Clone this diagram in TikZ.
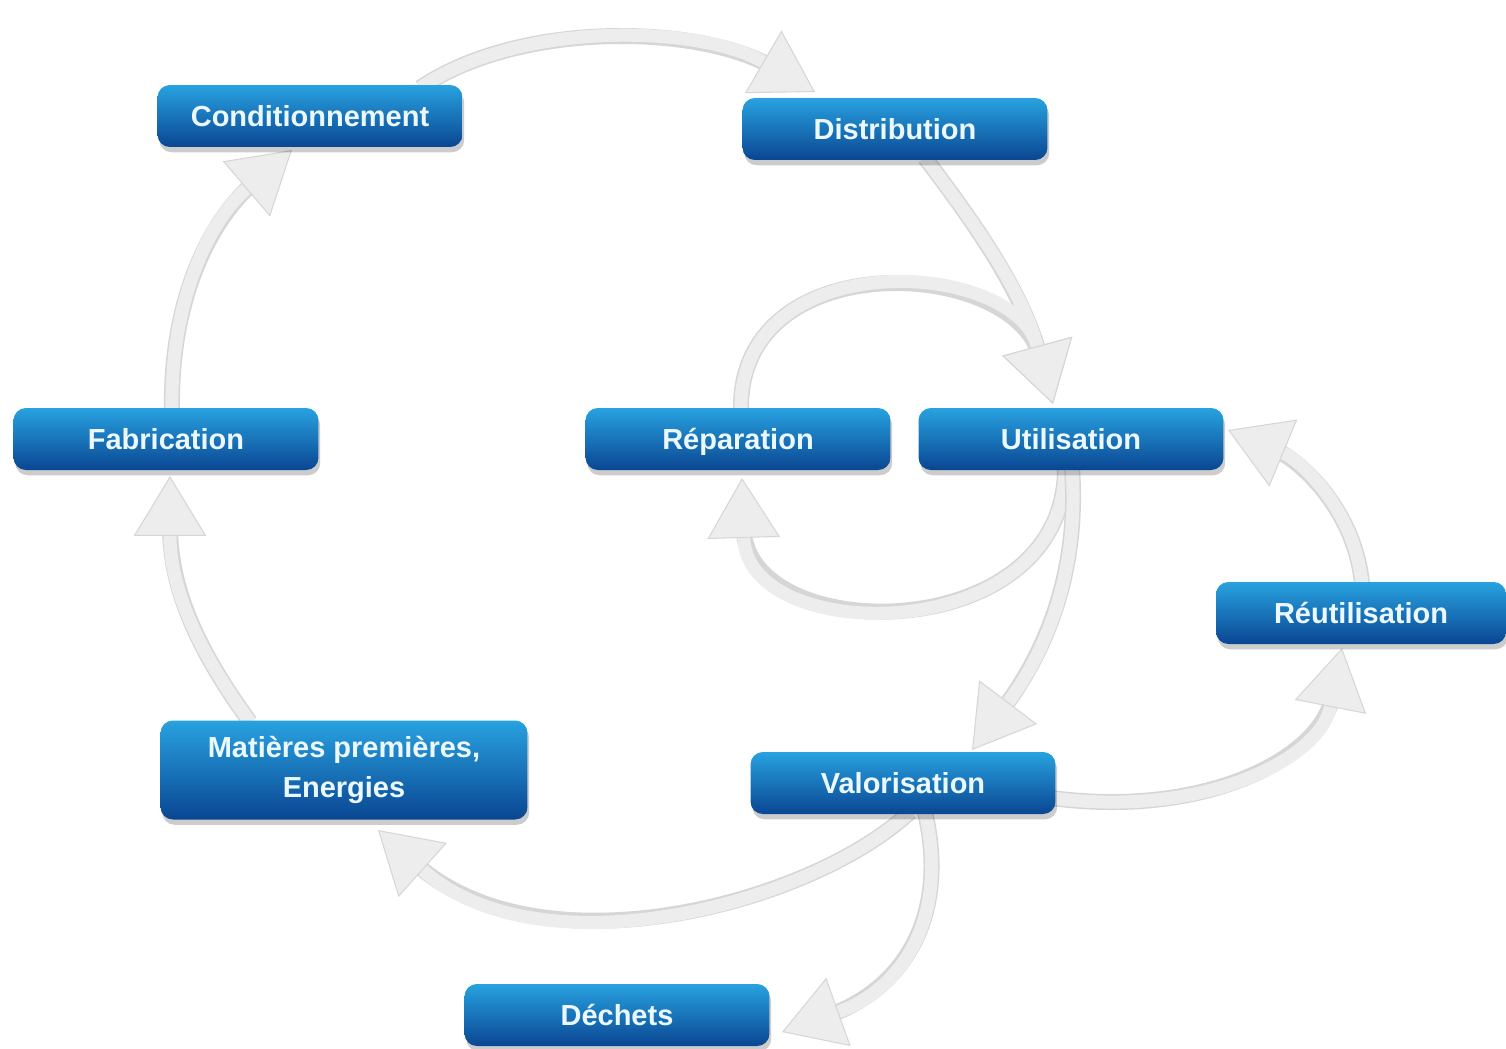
\documentclass[tikz,border=0pt]{standalone}
\usepackage{fontspec}
\setmainfont{Liberation Sans}
\usetikzlibrary{arrows.meta,shadows,calc,backgrounds}
\definecolor{boxtop}{RGB}{40,162,224}
\definecolor{boxbot}{RGB}{10,70,146}
\definecolor{boxtxt}{RGB}{236,248,255}
\definecolor{arrfill}{RGB}{237,237,237}
\definecolor{arredge}{RGB}{214,214,214}
\tikzset{
  stagebox/.style={rectangle, rounded corners=7pt, top color=boxtop, bottom color=boxbot,
    draw=none, text=boxtxt, font=\bfseries\fontsize{16.5}{23}\selectfont,
    minimum width=6.1cm, minimum height=1.24cm, inner sep=0pt, align=center,
    drop shadow={shadow xshift=1pt, shadow yshift=-3pt, opacity=0.2, fill=black}},
  oneline/.style={text height=12pt, text depth=0pt},
  flow/.style={draw=arrfill, line width=0.26cm,
    preaction={draw=arredge, line width=0.32cm, arrows=-, shorten >=1.0cm},
    -{Triangle[width=1.45cm, length=1.2cm, line width=0.6pt, color=arredge, fill=arrfill]}}
}
\begin{document}
\begin{tikzpicture}[x=0.02cm, y=-0.02cm]
\useasboundingbox (0,0) rectangle (1506,1048);

\node[stagebox, oneline] (cond) at (310,116) {Conditionnement};
\node[stagebox, oneline] (dist) at (895,129) {Distribution};
\node[stagebox, oneline] (fab)  at (166,439) {Fabrication};
\node[stagebox, oneline] (rep)  at (738,439) {Réparation};
\node[stagebox, oneline] (util) at (1071,439) {Utilisation};
\node[stagebox, oneline, minimum width=5.8cm] (reut) at (1361,613) {Réutilisation};
\node[stagebox, minimum width=7.34cm, minimum height=1.98cm] (mat) at (344,770) {Matières premières,\\Energies};
\node[stagebox, oneline] (valo) at (903,783) {Valorisation};
\node[stagebox, oneline] (dech) at (617,1015) {Déchets};

\begin{scope}[on background layer]
\fill[white] (0,0) rectangle (1506,1048);
\draw[flow] ($(cond.center)+(110,-28)$) .. controls +(100,-68) and +(-115,-67) .. ($(dist.center)+(-80,-37)$);
\draw[flow] ($(dist.center)+(30,29)$) .. controls +(55,72) and +(-30,-110) .. ($(util.center)+(-18,-35)$);
\draw[flow] ($(rep.center)+(3,-29)$) .. controls +(-3,-166) and +(-40,-147) .. ($(util.center)+(-18,-35)$);
\draw[flow] ($(util.center)+(-6,29)$) .. controls +(0,180) and +(5,170) .. ($(rep.center)+(4,39)$);
\draw[flow] ($(util.center)+(1,29)$) .. controls +(8,112) and +(68,-90) .. ($(valo.center)+(69,-33)$);
\draw[flow] ($(valo.center)+(142,14)$) .. controls +(155,23) and +(-22,112) .. ($(reut.center)+(-19,35)$);
\draw[flow] ($(reut.center)+(1,-29)$) .. controls +(-7,-74) and +(72,30) .. ($(util.center)+(157,-9)$);
\draw[flow] ($(valo.center)+(7,29)$) .. controls +(-100,93) and +(162,145) .. ($(mat.center)+(34,60)$);
\draw[flow] ($(valo.center)+(22,29)$) .. controls +(25,108) and +(118,-42) .. ($(dech.center)+(165,17)$);
\draw[flow] ($(mat.center)+(-94,-48)$) .. controls +(-60,-82) and +(0,104) .. ($(fab.center)+(4,37)$);
\draw[flow] ($(fab.center)+(6,-29)$) .. controls +(-2,-110) and +(-82,70) .. ($(cond.center)+(-18,34)$);
\end{scope}
\end{tikzpicture}
\end{document}
